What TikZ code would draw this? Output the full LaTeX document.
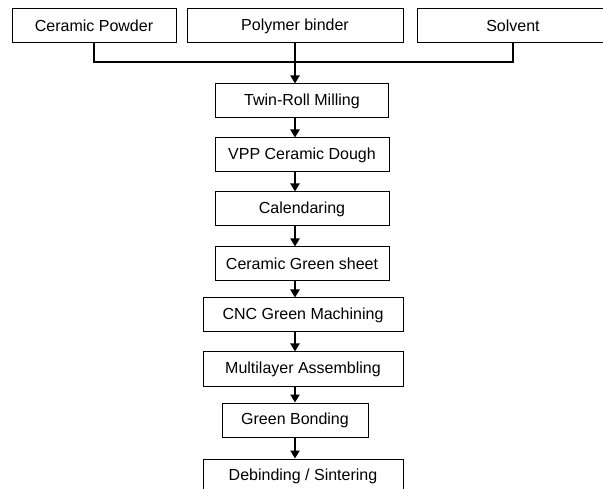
\documentclass[tikz,border=0pt]{standalone}
\usepackage{fontspec}
\setmainfont{Liberation Sans}
\usetikzlibrary{arrows.meta}

\begin{document}
\begin{tikzpicture}[x=1pt,y=-1pt]

      \useasboundingbox (0,0) rectangle (603,489);
      \clip (0,0) rectangle (603,489);

      \begin{scope}[every node/.style={draw, line width=1pt, inner sep=0pt,
          minimum height=34pt, font=\fontsize{16}{19}\selectfont}]
        % raw materials
        \node[minimum width=164pt] (powder)  at (94,26)  {Ceramic Powder};
        \node[minimum width=216pt] (binder)  at (295,26) {Polymer binder};
        \node[minimum width=192pt] (solvent) at (513,26) {Solvent};
        % process chain
        \node[minimum width=173pt] (milling)    at (302,101) {Twin-Roll Milling};
        \node[minimum width=174pt] (dough)      at (302,155) {VPP Ceramic Dough};
        \node[minimum width=174pt] (calender)   at (302,209) {Calendaring};
        \node[minimum width=174pt] (greensheet) at (302,264) {Ceramic Green sheet};
        \node[minimum width=200pt] (cnc)        at (303,315) {CNC Green Machining};
        \node[minimum width=200pt] (multilayer) at (303,369) {Multilayer Assembling};
        \node[minimum width=146pt] (bonding)    at (295,420) {Green Bonding};
        \node[minimum width=200pt] (sintering)  at (303,476) {Debinding / Sintering};
      \end{scope}

      \coordinate (join) at (295,62);

      \begin{scope}[every path/.style={line width=1.5pt}]
        \draw (powder.south) |- (join) -| (solvent.south);
      \end{scope}

      \begin{scope}[every path/.style={line width=2.3pt, -{Triangle[length=8pt,width=9pt]}}]
        \draw (binder.south) -- (milling.north -| binder);
        \draw (milling.south -| binder) -- (dough.north -| binder);
        \draw (dough.south -| binder) -- (calender.north -| binder);
        \draw (calender.south -| binder) -- (greensheet.north -| binder);
        \draw (greensheet.south -| binder) -- (cnc.north -| binder);
        \draw (cnc.south -| binder) -- (multilayer.north -| binder);
        \draw (multilayer.south -| binder) -- (bonding.north -| binder);
        \draw (bonding.south -| binder) -- (sintering.north -| binder);
      \end{scope}

    \end{tikzpicture}
\end{document}
